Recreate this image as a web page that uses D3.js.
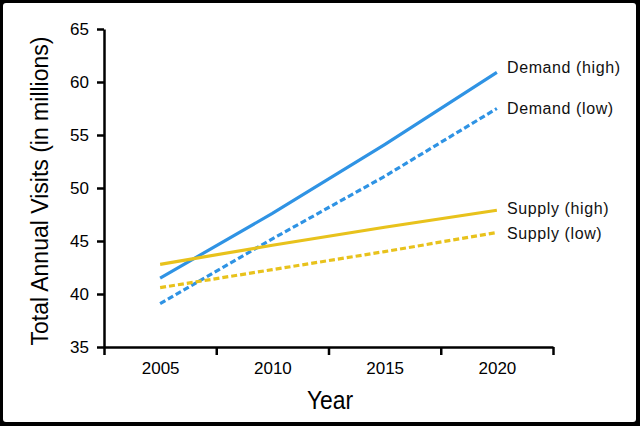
<!DOCTYPE html>
<html lang="en">
<head>
    <meta charset="UTF-8">
    <title>Visits</title>
    <script src="https://d3js.org/d3.v7.min.js"></script>
</head>
<body>

<style>
    body { margin: 0; background: #000; }
    .axis text {
        fill: #000;
        font-family: "Liberation Sans", Arial, sans-serif;
        font-size: 17px;
    }
    .axis line, .axis path {
        fill: none;
        stroke: #000;
        stroke-width: 2.5px;
    }
    .label {
        font-family: "Liberation Sans", Arial, sans-serif;
        font-size: 16px;
        letter-spacing: 0.6px;
        fill: #111;
    }
</style>

<script type="text/javascript">

    // data
    var years = [2005, 2010, 2015, 2020];
    var demandHigh = [41.5, 47.6, 54.1, 60.9];
    var demandLow = [39.1, 45.2, 51.1, 57.5];
    var supplyHigh = [42.8, 44.6, 46.3, 47.9];
    var supplyLow = [40.6, 42.3, 44.0, 45.8];
    var yTicks = [35, 40, 45, 50, 55, 60, 65];
    var xBounds = [2002.5, 2007.5, 2012.5, 2017.5, 2022.5];

    var series = [
        {name: "Demand (high)", values: demandHigh, color: "#2f93e4", dash: null, dy: -5},
        {name: "Demand (low)", values: demandLow, color: "#2f93e4", dash: "6,3", dy: 0},
        {name: "Supply (high)", values: supplyHigh, color: "#e8c21c", dash: null, dy: -2},
        {name: "Supply (low)", values: supplyLow, color: "#e8c21c", dash: "6,3", dy: 1}
    ];

    var W = 640, H = 426;
    var svg = d3.select("body").append("svg")
            .attr("width", W)
            .attr("height", H)
            .style("display", "block");

    // black frame
    svg.append("rect").attr("width", W).attr("height", H).attr("fill", "#000");
    svg.append("rect")
            .attr("x", 3).attr("y", 3)
            .attr("width", 633).attr("height", 419)
            .attr("rx", 3)
            .attr("fill", "#fff");

    var xScale = d3.scaleLinear().domain([2002.5, 2022.5]).range([104, 553]);
    var yScale = d3.scaleLinear().domain([35, 65]).range([347, 29]);

    // x axis: ticks on the boundaries, labels in between
    svg.append("g")
            .attr("class", "x axis")
            .attr("transform", "translate(0,347)")
            .call(d3.axisBottom(xScale).tickValues(xBounds).tickFormat("").tickSize(8).tickSizeOuter(0));

    var xl = svg.append("g")
            .attr("class", "x axis")
            .attr("transform", "translate(0,347)")
            .call(d3.axisBottom(xScale).tickValues(years).tickFormat(d3.format("d")).tickSize(0).tickPadding(15));
    xl.select(".domain").remove();

    svg.append("g")
            .attr("class", "y axis")
            .attr("transform", "translate(104,0)")
            .call(d3.axisLeft(yScale).tickValues(yTicks).tickSize(7).tickSizeOuter(0).tickPadding(8));

    // axis titles
    svg.append("text")
            .attr("x", 330)
            .attr("y", 409)
            .attr("text-anchor", "middle")
            .attr("transform", "translate(330,0) scale(0.88,1) translate(-330,0)")
            .style("font-family", "'Liberation Sans', Arial, sans-serif")
            .style("font-size", "26px")
            .text("Year");

    svg.append("text")
            .attr("transform", "translate(48,191) rotate(-90)")
            .attr("text-anchor", "middle")
            .style("font-family", "'Liberation Sans', Arial, sans-serif")
            .style("font-size", "23px")
            .text("Total Annual Visits (in millions)");

    var line = d3.line()
            .x(function(d, i){ return xScale(years[i]); })
            .y(function(d){ return yScale(d); });

    svg.selectAll("path.series")
            .data(series).enter()
            .append("path")
            .attr("class", "series")
            .attr("d", function(d){ return line(d.values); })
            .attr("fill", "none")
            .attr("stroke", function(d){ return d.color; })
            .attr("stroke-width", 3.2)
            .attr("stroke-dasharray", function(d){ return d.dash; });

    svg.selectAll("text.label")
            .data(series).enter()
            .append("text")
            .attr("class", "label")
            .attr("x", 507)
            .attr("y", function(d){ return yScale(d.values[d.values.length - 1]) + d.dy; })
            .attr("dy", "0.35em")
            .text(function(d){ return d.name; });

</script>

</body>
</html>
